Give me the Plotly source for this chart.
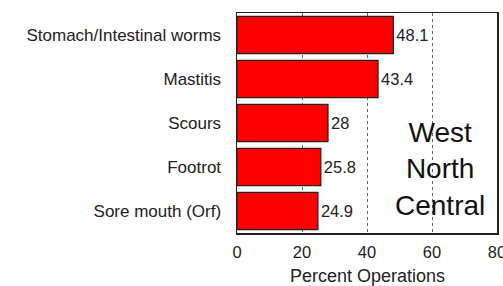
import plotly.graph_objects as go

categories = ["Stomach/Intestinal worms", "Mastitis", "Scours", "Footrot", "Sore mouth (Orf)"]
values = [48.1, 43.4, 28, 25.8, 24.9]
value_labels = ["48.1", "43.4", "28", "25.8", "24.9"]
x_ticks = [0, 20, 40, 60, 80]
region_label = "West<br>North<br>Central"
x_title = "Percent Operations"

FONT = "Liberation Sans, Arial"

fig = go.Figure()
fig.add_trace(go.Bar(
    x=values, y=categories, orientation="h",
    marker=dict(color="#ff0000", line=dict(color="#222222", width=1.2)),
    text=value_labels, textposition="outside", cliponaxis=False,
    textfont=dict(family=FONT, size=16.5, color="#222222"),
))

fig.add_annotation(
    x=62.5, y=3.05, xref="x", yref="y", text=region_label, showarrow=False,
    font=dict(family=FONT, size=28, color="#111111"),
    align="center",
)
fig.add_annotation(
    x=0.5, y=-0.195, xref="paper", yref="paper", text=x_title, showarrow=False,
    font=dict(family=FONT, size=18, color="#222222"), yanchor="middle",
)

fig.update_layout(
    width=503, height=286,
    margin=dict(l=237, r=6, t=13, b=53),
    paper_bgcolor="white", plot_bgcolor="white",
    bargap=0.15, showlegend=False,
    font=dict(family=FONT, color="#222222"),
)
fig.update_xaxes(
    range=[0, 80], tickvals=x_ticks, showgrid=True, gridcolor="#666666",
    griddash="dot", gridwidth=1, showline=True, linecolor="#222222", linewidth=1.5,
    mirror=True, ticks="", zeroline=False, automargin=False, ticklabelstandoff=4,
    ticklabeloverflow="allow",
    tickfont=dict(size=16.5, family=FONT, color="#222222"),
)
fig.update_yaxes(
    autorange="reversed", showline=True, linecolor="#222222", linewidth=1.5,
    mirror=True, ticks="", ticklabelstandoff=11, automargin=False,
    tickfont=dict(size=17, family=FONT, color="#222222"),
)

fig.write_html(
    "out.html",
    config={"displayModeBar": False, "staticPlot": True},
    post_script=(
        "document.body.style.margin='0';document.body.style.padding='0';"
        "document.body.style.overflow='hidden';"
        "document.documentElement.style.overflow='hidden';"
    ),
)
